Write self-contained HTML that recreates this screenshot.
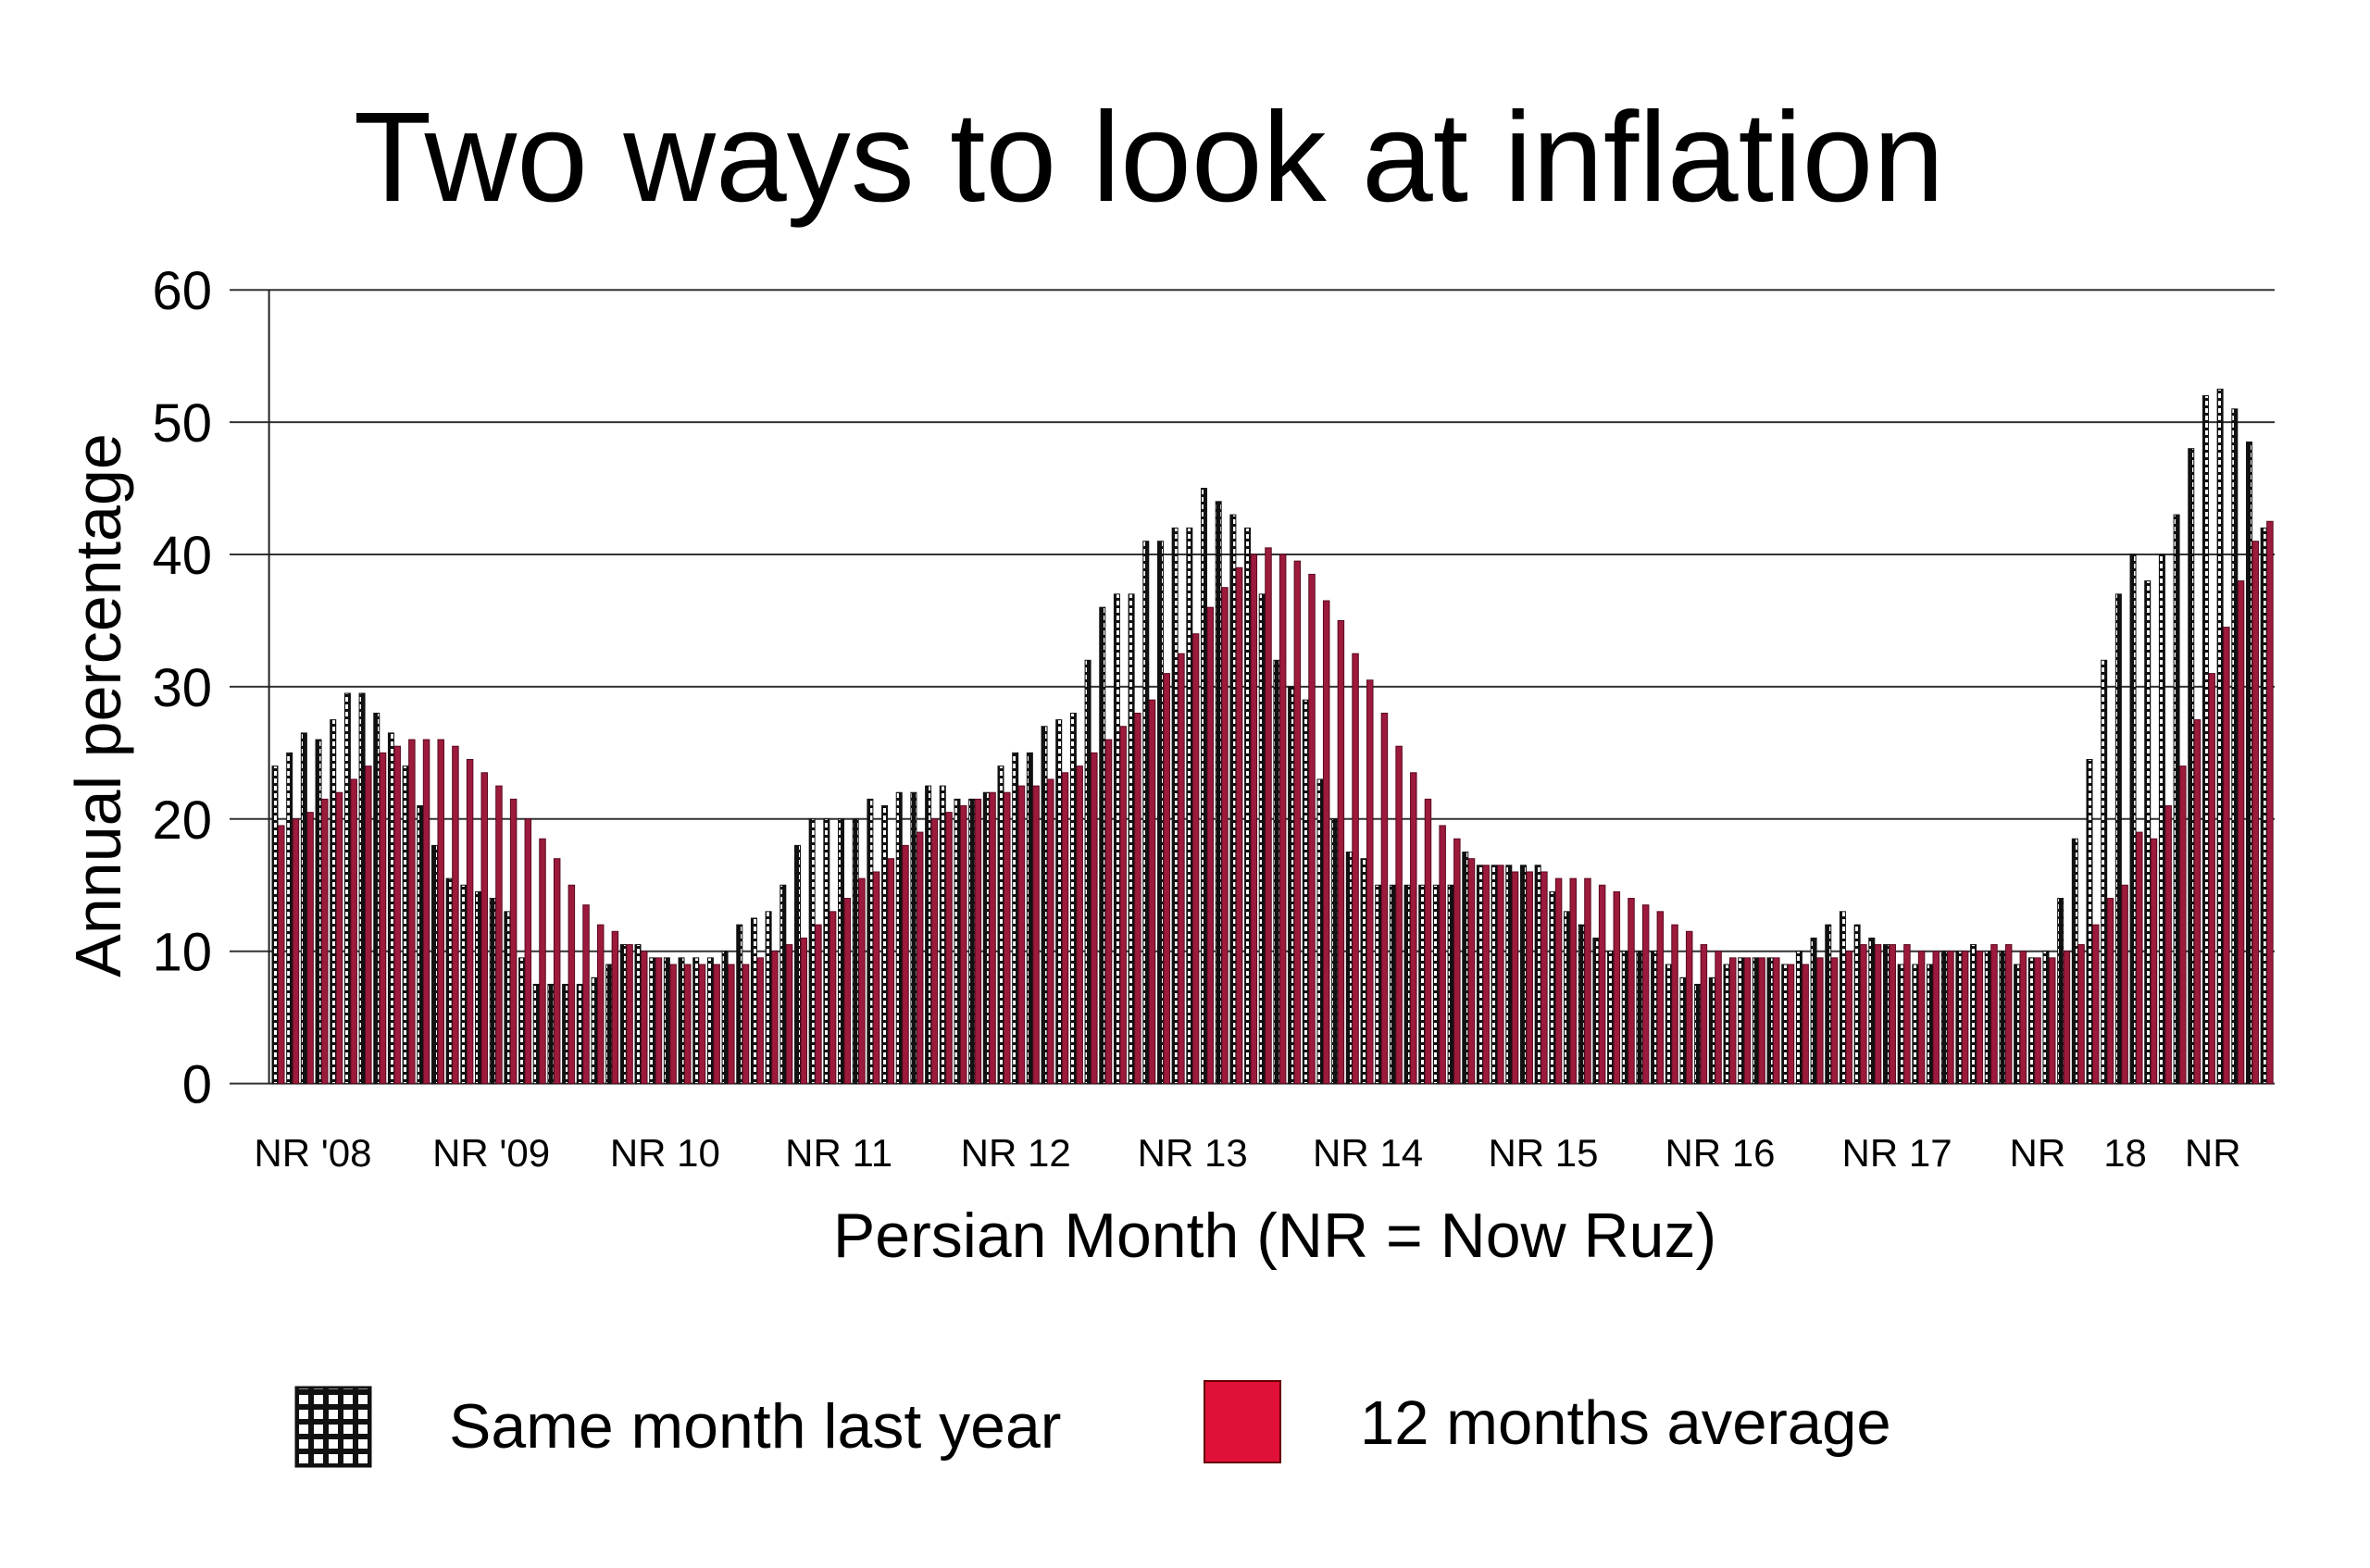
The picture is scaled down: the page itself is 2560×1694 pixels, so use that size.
<!DOCTYPE html>
<html><head><meta charset="utf-8"><style>
html,body{margin:0;padding:0;background:#fff;}
svg{display:block;}
text{font-family:"Liberation Sans",Arial,sans-serif;fill:#000;}
</style></head><body>
<svg id="s" width="2560" height="1694" viewBox="0 0 2560 1694" xmlns="http://www.w3.org/2000/svg">
<defs>
<pattern id="chk" patternUnits="userSpaceOnUse" width="7" height="8">
<rect width="7" height="8" fill="#111"/>
<rect x="2" y="1" width="3" height="5" fill="#fff"/>
</pattern>
<pattern id="chk2" patternUnits="userSpaceOnUse" width="16" height="16">
<rect width="16" height="16" fill="#111"/>
<rect x="3" y="3" width="10" height="10" fill="#fff"/>
</pattern>
</defs>
<text x="1241" y="217" font-size="138" text-anchor="middle">Two ways to look at inflation</text>
<g id="grid"></g>
<g id="bars"></g>
<line x1="290.6" y1="313" x2="290.6" y2="1171" stroke="#222" stroke-width="2"/>
<text transform="translate(130,762) rotate(-90)" font-size="70" text-anchor="middle">Annual percentage</text>
<g font-size="42" text-anchor="middle" id="xl"></g>
<text x="1377" y="1358" font-size="68" text-anchor="middle">Persian Month (NR = Now Ruz)</text>
<rect x="320" y="1499" width="80" height="85" fill="url(#chk2)" stroke="#111" stroke-width="3"/>
<text x="485" y="1564" font-size="68">Same month last year</text>
<rect x="1301" y="1492" width="82" height="88" fill="#e01038" stroke="#600" stroke-width="2"/>
<text x="1469" y="1560" font-size="67">12 months average</text>
</svg>
<script>
var pat=[24,25,26.5,26,27.5,29.5,29.5,28,26.5,24,21,18,15.5,15,14.5,14,13,9.5,7.5,7.5,7.5,7.5,8,9,10.5,10.5,9.5,9.5,9.5,9.5,9.5,10,12,12.5,13,15,18,20,20,20,20,21.5,21,22,22,22.5,22.5,21.5,21.5,22,24,25,25,27,27.5,28,32,36,37,37,41,41,42,42,45,44,43,42,37,32,30,29,23,20,17.5,17,15,15,15,15,15,15,17.5,16.5,16.5,16.5,16.5,16.5,14.5,13,12,11,10,10,10,10,9,8,7.5,8,9,9.5,9.5,9.5,9,10,11,12,13,12,11,10.5,9,9,9,10,10,10.5,10,10,9,9.5,10,14,18.5,24.5,32,37,40,38,40,43,48,52,52.5,51,48.5,42];
var red=[19.5,20,20.5,21.5,22,23,24,25,25.5,26,26,26,25.5,24.5,23.5,22.5,21.5,20,18.5,17,15,13.5,12,11.5,10.5,10,9.5,9,9,9,9,9,9,9.5,10,10.5,11,12,13,14,15.5,16,17,18,19,20,20.5,21,21.5,22,22,22.5,22.5,23,23.5,24,25,26,27,28,29,31,32.5,34,36,37.5,39,40,40.5,40,39.5,38.5,36.5,35,32.5,30.5,28,25.5,23.5,21.5,19.5,18.5,17,16.5,16.5,16,16,16,15.5,15.5,15.5,15,14.5,14,13.5,13,12,11.5,10.5,10,9.5,9.5,9.5,9.5,9,9,9.5,9.5,10,10.5,10.5,10.5,10.5,10,10,10,10,10,10.5,10.5,10,9.5,9.5,10,10.5,12,14,15,19,18.5,21,24,27.5,31,34.5,38,41,42.5];
var ns="http://www.w3.org/2000/svg";
function el(t,a,p){var e=document.createElementNS(ns,t);for(var k in a)e.setAttribute(k,a[k]);if(p)p.appendChild(e);return e;}
var y0=1170.6,u=14.29,g=document.getElementById('grid');
for(var v=0;v<=60;v+=10){var y=y0-v*u;
 el('line',{x1:248,y1:y,x2:2457,y2:y,stroke:'#333','stroke-width':2},g);
 var t=el('text',{x:229,y:y+21,'font-size':58,'text-anchor':'end'},g);t.textContent=v;}
var b=document.getElementById('bars'),x0=294,w=15.68;
for(var i=0;i<red.length;i++){var x=x0+i*w;
 var p=pat[i];el('rect',{x:x,y:y0-p*u,width:6,height:p*u,fill:'url(#chk)',stroke:'#111','stroke-width':1},b);
 var r=red[i];el('rect',{x:x+6.5,y:y0-r*u,width:6.5,height:r*u,fill:'#9c1a3c',stroke:'#5a0a20','stroke-width':1},b);}
var xl=document.getElementById('xl');
[["NR '08",207],["NR '09",325],["NR 10",440],["NR 11",555],["NR 12",672],["NR 13",789],["NR 14",905],["NR 15",1021],["NR 16",1138],["NR 17",1255],["NR",1348],["18",1406],["NR",1464]].forEach(function(a){
 var t=el('text',{x:a[1]*1.6327,y:1260},xl);t.textContent=a[0];});
</script>
</body></html>
